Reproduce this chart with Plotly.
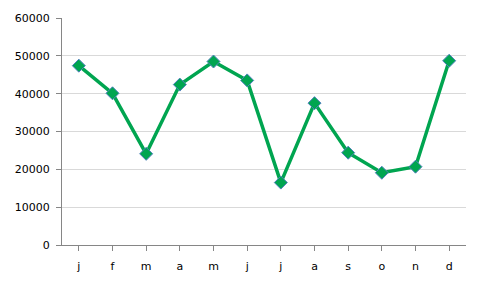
import plotly.graph_objects as go

months = ["j", "f", "m", "a", "m", "j", "j", "a", "s", "o", "n", "d"]
values = [47400, 40100, 24100, 42400, 48500, 43500, 16500, 37500, 24400, 19100, 20700, 48700]
y_ticks = [0, 10000, 20000, 30000, 40000, 50000, 60000]

x_idx = list(range(len(months)))

fig = go.Figure()
fig.add_trace(go.Scatter(
    x=x_idx, y=values, mode="lines+markers",
    line=dict(color="#00A550", width=3.5),
    marker=dict(symbol="diamond", size=10, color="#00A550",
                line=dict(color="#4F81BD", width=1)),
    hoverinfo="skip",
))

fig.update_layout(
    width=482, height=290,
    margin=dict(l=62, r=16, t=16, b=45),
    paper_bgcolor="white", plot_bgcolor="white",
    showlegend=False,
    font=dict(family="DejaVu Sans", size=11, color="#000000"),
)
fig.update_xaxes(
    range=[-0.5, 11.5],
    tickmode="array", tickvals=x_idx, ticktext=months,
    showgrid=False, zeroline=False,
    showline=True, linecolor="#868686", linewidth=1,
    ticks="outside", ticklen=5, tickcolor="#868686",
    tickson="boundaries",
    ticklabelstandoff=6,
)
fig.update_yaxes(
    range=[0, 60000],
    tickmode="array", tickvals=y_ticks, ticktext=[str(v) for v in y_ticks],
    showgrid=True, gridcolor="#D9D9D9", gridwidth=1,
    zeroline=False,
    showline=True, linecolor="#868686", linewidth=1,
    ticks="outside", ticklen=5, tickcolor="#868686",
    ticklabelstandoff=4,
)

fig.write_html("out.html")
